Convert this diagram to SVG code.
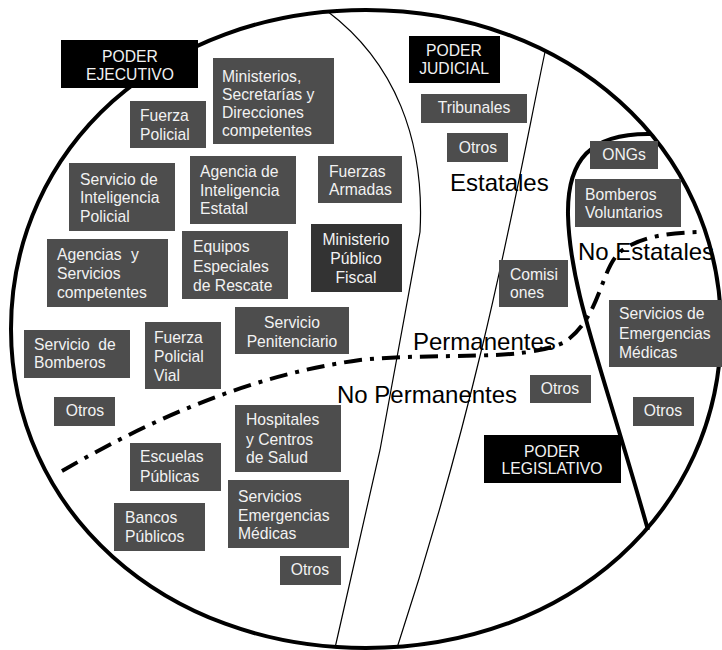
<svg xmlns="http://www.w3.org/2000/svg" width="722" height="650" viewBox="0 0 722 650">
<style>
.b{fill:#4d4d4d}
.d{fill:#333333}
.k{fill:#000000}
.t{font-family:"Liberation Sans",Arial,sans-serif;font-size:15.7px;fill:#f2f2f2}
.m{text-anchor:middle}
.L{font-family:"Liberation Sans",Arial,sans-serif;font-size:24px;fill:#000000}
.thin{fill:none;stroke:#000;stroke-width:1.2}
.thick{fill:none;stroke:#000;stroke-width:4}
.dash{fill:none;stroke:#000;stroke-width:4;stroke-dasharray:18 8 4 8}
</style>
<rect width="722" height="650" fill="#ffffff"/>
<g id="connectors">
<path class="thick" d="M721,329 C721,510.8 568.4,648 366,648 C163.6,648 11,510.8 11,329 C11,147.2 163.6,10 366,10 C568.4,10 721,147.2 721,329 Z"/>
<path class="thin" d="M327,11 C395,62 425,140 420,232 L380,450 L335,648"/>
<path class="thin" d="M545,52 C520,170 485,380 397,648"/>
<path class="thick" d="M651,134 C590,133 567,160 568,215 C570,290 600,360 648,530"/>
<path class="dash" d="M62,471 C150,420 250,375 360,360 C440,352 520,362 563,343 C600,320 600,270 620,252 C640,236 670,233 698,232"/>
</g>
<g id="labels">
<text class="L" x="450" y="191">Estatales</text>
<text class="L" x="578" y="260">No Estatales</text>
<text class="L" x="413" y="350">Permanentes</text>
<text class="L" x="337" y="403">No Permanentes</text>
</g>
<g id="poder-ejecutivo"><rect class="k" x="61" y="40" width="137" height="48"/><text class="t m" x="130"><tspan x="130" y="62">PODER</tspan><tspan x="130" y="80">EJECUTIVO</tspan></text></g>
<g id="ministerios"><rect class="b" x="213" y="58" width="121" height="86"/><text class="t"><tspan x="222" y="82">Ministerios,</tspan><tspan x="222" y="100">Secretarías y</tspan><tspan x="222" y="118">Direcciones</tspan><tspan x="222" y="136">competentes</tspan></text></g>
<g id="fuerza-policial"><rect class="b" x="130" y="101" width="76" height="47"/><text class="t"><tspan x="140" y="121">Fuerza</tspan><tspan x="140" y="140">Policial</tspan></text></g>
<g id="servicio-inteligencia"><rect class="b" x="69" y="163" width="106" height="68"/><text class="t"><tspan x="80" y="185">Servicio de</tspan><tspan x="80" y="203">Inteligencia</tspan><tspan x="80" y="222">Policial</tspan></text></g>
<g id="agencia-inteligencia"><rect class="b" x="190" y="156" width="106" height="68"/><text class="t"><tspan x="200" y="177">Agencia de</tspan><tspan x="200" y="195.5">Inteligencia</tspan><tspan x="200" y="214">Estatal</tspan></text></g>
<g id="fuerzas-armadas"><rect class="b" x="318" y="156" width="84" height="47"/><text class="t"><tspan x="329" y="177">Fuerzas</tspan><tspan x="329" y="195">Armadas</tspan></text></g>
<g id="poder-judicial"><rect class="k" x="409" y="36" width="91" height="47"/><text class="t m"><tspan x="454" y="56">PODER</tspan><tspan x="454" y="74">JUDICIAL</tspan></text></g>
<g id="tribunales"><rect class="b" x="421" y="94" width="106" height="29"/><text class="t m" x="474" y="113">Tribunales</text></g>
<g id="otros-judicial"><rect class="b" x="447" y="133" width="61" height="29"/><text class="t m" x="478" y="153">Otros</text></g>
<g id="ongs"><rect class="b" x="590" y="141" width="68" height="28"/><text class="t m" x="624" y="160">ONGs</text></g>
<g id="bomberos-voluntarios"><rect class="b" x="575" y="179" width="106" height="48"/><text class="t"><tspan x="585" y="200">Bomberos</tspan><tspan x="585" y="218">Voluntarios</tspan></text></g>
<g id="ministerio-publico"><rect class="d" x="311" y="224" width="91" height="68"/><text class="t m"><tspan x="356" y="245">Ministerio</tspan><tspan x="356" y="264">Público</tspan><tspan x="356" y="283">Fiscal</tspan></text></g>
<g id="agencias-servicios"><rect class="b" x="47" y="239" width="121" height="68"/><text class="t"><tspan x="57" y="260" word-spacing="5">Agencias y</tspan><tspan x="57" y="279">Servicios</tspan><tspan x="57" y="298">competentes</tspan></text></g>
<g id="equipos-rescate"><rect class="b" x="182" y="231" width="106" height="68"/><text class="t"><tspan x="193" y="252">Equipos</tspan><tspan x="193" y="272">Especiales</tspan><tspan x="193" y="291">de Rescate</tspan></text></g>
<g id="servicio-penitenciario"><rect class="b" x="235" y="307" width="114" height="47"/><text class="t m"><tspan x="292" y="328">Servicio</tspan><tspan x="292" y="347">Penitenciario</tspan></text></g>
<g id="servicio-bomberos"><rect class="b" x="24" y="330" width="106" height="48"/><text class="t"><tspan x="34" y="350" word-spacing="4">Servicio de</tspan><tspan x="34" y="368">Bomberos</tspan></text></g>
<g id="fuerza-policial-vial"><rect class="b" x="145" y="322" width="76" height="67"/><text class="t"><tspan x="154" y="343">Fuerza</tspan><tspan x="154" y="362">Policial</tspan><tspan x="154" y="381">Vial</tspan></text></g>
<g id="otros-ejecutivo"><rect class="b" x="54" y="397" width="61" height="29"/><text class="t m" x="85" y="416">Otros</text></g>
<g id="hospitales"><rect class="b" x="235" y="405" width="106" height="67"/><text class="t"><tspan x="246" y="425">Hospitales</tspan><tspan x="246" y="445">y Centros</tspan><tspan x="246" y="463">de Salud</tspan></text></g>
<g id="escuelas"><rect class="b" x="130" y="443" width="91" height="48"/><text class="t"><tspan x="140" y="462">Escuelas</tspan><tspan x="140" y="482">Públicas</tspan></text></g>
<g id="servicios-emergencias-publicos"><rect class="b" x="228" y="480" width="121" height="68"/><text class="t"><tspan x="238" y="502">Servicios</tspan><tspan x="238" y="521">Emergencias</tspan><tspan x="238" y="539">Médicas</tspan></text></g>
<g id="bancos"><rect class="b" x="114" y="503" width="91" height="48"/><text class="t"><tspan x="125" y="523">Bancos</tspan><tspan x="125" y="542">Públicos</tspan></text></g>
<g id="otros-bottom"><rect class="b" x="280" y="556" width="61" height="29"/><text class="t m" x="310" y="575">Otros</text></g>
<g id="comisiones"><rect class="b" x="499" y="260" width="69" height="47"/><text class="t"><tspan x="510" y="280">Comisi</tspan><tspan x="510" y="298">ones</tspan></text></g>
<g id="otros-legislativo"><rect class="b" x="530" y="375" width="61" height="28"/><text class="t m" x="560" y="394">Otros</text></g>
<g id="servicios-emergencias-privados"><rect class="b" x="609" y="300" width="113" height="67"/><text class="t"><tspan x="619" y="319">Servicios de</tspan><tspan x="619" y="339">Emergencias</tspan><tspan x="619" y="358">Médicas</tspan></text></g>
<g id="otros-no-estatales"><rect class="b" x="633" y="397" width="61" height="29"/><text class="t m" x="663" y="416">Otros</text></g>
<g id="poder-legislativo"><rect class="k" x="484" y="435" width="137" height="48"/><text class="t m"><tspan x="552" y="457">PODER</tspan><tspan x="552" y="474">LEGISLATIVO</tspan></text></g>
</svg>
